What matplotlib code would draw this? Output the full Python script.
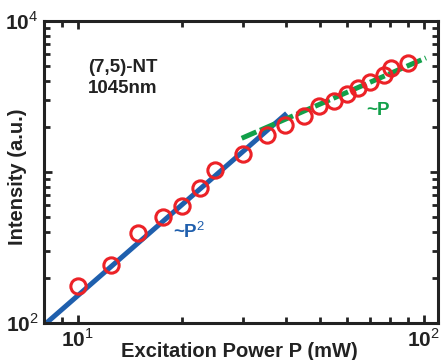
import matplotlib
matplotlib.use("Agg")
import matplotlib.pyplot as plt
import numpy as np

plt.rcParams['font.family'] = ['Liberation Sans', 'DejaVu Sans']
plt.rcParams['mathtext.fontset'] = 'custom'
plt.rcParams['mathtext.rm'] = 'Liberation Sans'
plt.rcParams['mathtext.bf'] = 'Liberation Sans:bold'

# measured points (excitation power in mW, PL intensity in a.u.)
power = [10, 12.5, 14.9, 17.6, 20, 22.6, 24.9, 30, 35.2, 39.7, 45.1,
         49.9, 55.2, 59.9, 64.7, 70, 76.8, 80.4, 90.3]
intensity = [176, 242, 393, 506, 599, 789, 1031, 1309, 1758, 2047, 2348,
             2736, 2966, 3288, 3581, 3963, 4389, 4860, 5245]

# power-law guides
quad_range = [8.13, 40.2]
quad_coef = 1.513
lin_range = [29.8, 101.5]
lin_coef = 56.1

red = '#ec2227'
blue = '#1f5fad'
green = '#12a04a'
ink = '#222222'

fig = plt.figure(figsize=(4.41, 3.6), dpi=100)
ax = fig.add_axes([0.0998, 0.1028, 0.8935, 0.839])

pq = np.array(quad_range)
ax.plot(pq, quad_coef * pq ** 2, color=blue, lw=3.6, solid_capstyle='butt', zorder=2)
pl = np.array(lin_range)
ax.plot(pl, lin_coef * pl, color=green, lw=3.6, dashes=(3.2, 0.8), zorder=2)
ax.plot(power, intensity, 'o', mfc='none', mec=red, ms=11, mew=2.2, zorder=3)

ax.set_xscale('log')
ax.set_yscale('log')
ax.set_xlim(8, 110)
ax.set_ylim(100, 10000)

ax.set_xticks([10, 100])
ax.set_xticklabels([r'$\mathbf{10}^{1}$', r'$\mathbf{10}^{2}$'])
ax.set_yticks([100, 1000, 10000])
ax.set_yticklabels([r'$\mathbf{10}^{2}$', '', r'$\mathbf{10}^{4}$'])

for s in ax.spines.values():
    s.set_linewidth(2.2)
    s.set_color(ink)
ax.tick_params(which='both', direction='in', top=True, right=True, width=2,
               labelsize=15, colors=ink)
ax.tick_params(which='major', length=6, pad=4)
ax.tick_params(which='minor', length=4)

ax.set_xlabel('Excitation Power P (mW)', fontsize=14.5, fontweight='bold', color=ink)
ax.xaxis.label.set_va('baseline')
ax.xaxis.set_label_coords(0.497, -0.1126)
ax.set_ylabel('Intensity (a.u.)', fontsize=14.5, fontweight='bold', color=ink)
ax.yaxis.set_label_coords(-0.043, 0.483)

ax.text(0.112, 0.875, '(7,5)-NT\n1045nm', transform=ax.transAxes, fontsize=13.5,
        fontweight='bold', color=ink, va='top', linespacing=1.3)
ax.text(18.9, 365, '~P$^{2}$', color=blue, fontsize=13.5, fontweight='bold',
        ha='left', va='baseline')
ax.text(68.1, 2384, '~P', color=green, fontsize=13.5, fontweight='bold',
        ha='left', va='baseline')

fig.savefig('out.png', dpi=100)
